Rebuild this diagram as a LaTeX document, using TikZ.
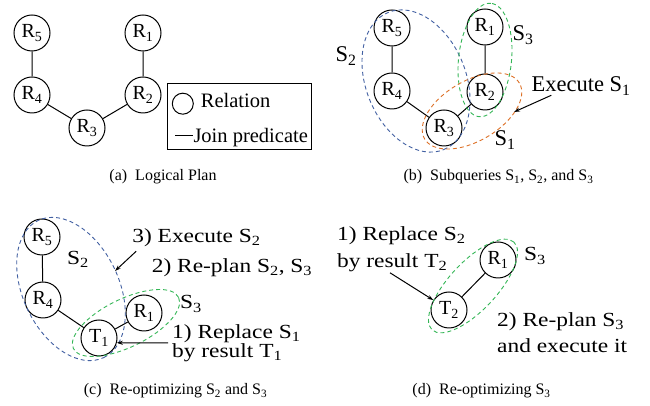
\documentclass[tikz,border=0pt]{standalone}
\usepackage{fontspec}
\setmainfont{Liberation Serif}
\newfontfamily\widefont{Liberation Serif}[FakeStretch=1.17]
\usepackage{tikz}
\usetikzlibrary{arrows.meta,positioning}
\definecolor{sq1}{RGB}{221,112,38}
\definecolor{sq2}{RGB}{66,96,162}
\definecolor{sq3}{RGB}{52,182,86}
\newcommand{\sbs}[2]{#1\textsubscript{#2}}
\tikzset{
	rel/.style={draw,circle,line width=1pt,minimum size=36pt,inner sep=0pt,font=\fontsize{20}{24}\selectfont},
	lbla/.style={inner sep=0pt,font=\fontsize{20.5}{24}\selectfont},
	lblb/.style={inner sep=0pt,font=\fontsize{22.5}{26}\selectfont},
	lblw/.style={inner sep=0pt,align=left,font=\widefont\fontsize{20}{#1}\selectfont},
	lblw/.default=24,
	capt/.style={inner sep=0pt,font=\fontsize{16}{19}\selectfont},
	grp/.style={draw=#1,line width=0.9pt,dash pattern=on 4pt off 3pt},
	pred/.style={line width=1pt},
	ptr/.style={line width=1pt,-{Stealth[length=6pt,width=4pt]}}
}
\begin{document}
\begin{tikzpicture}[x=1pt,y=1pt]
		\useasboundingbox (0,0) rectangle (650,406);
		\node[rel] (a5) at (32,373) {\sbs{R}{5}};
		\node[rel] (a1) at (143,373) {\sbs{R}{1}};
		\node[rel] (a4) at (32,311) {\sbs{R}{4}};
		\node[rel] (a2) at (143,311) {\sbs{R}{2}};
		\node[rel] (a3) at (87,278) {\sbs{R}{3}};
		\draw[pred] (a5) -- (a4) -- (a3) -- (a2) -- (a1);
		\node[draw,line width=1pt,minimum width=144pt,minimum height=66pt] (leg) at (239.5,289.7) {};
		\node[draw,circle,line width=1pt,minimum size=21pt,inner sep=0pt] (legrel) at (182.8,302.3) {};
		\node[lbla,anchor=base west] (legreltxt) at (200.7,298) {Relation};
		\coordinate (legj1) at (175,270);
		\coordinate (legj2) at (193,270);
		\draw[pred] (legj1) -- (legj2);
		\node[lbla,anchor=base west] (legjtxt) at (193.3,263) {Join predicate};
		\node[capt] (capa) at (163,229) {(a)\hspace{0.5em}Logical Plan};

		\node[rel] (b5) at (392,378) {\sbs{R}{5}};
		\node[rel] (b1) at (485,379) {\sbs{R}{1}};
		\node[rel] (b4) at (392,315) {\sbs{R}{4}};
		\node[rel] (b2) at (485,314) {\sbs{R}{2}};
		\node[rel] (b3) at (444,278) {\sbs{R}{3}};
		\draw[pred] (b5) -- (b4) -- (b3) -- (b2) -- (b1);
		\draw[grp=sq2] (416,325) circle[x radius=74,y radius=50,rotate=-68];
		\draw[grp=sq3] (485,346) circle[x radius=57,y radius=26.5,rotate=84];
		\draw[grp=sq1] (472,295) circle[x radius=55,y radius=30,rotate=30.5];
		\node[lblb] (bs2) at (346,350) {\sbs{S}{2}};
		\node[lblb] (bs3) at (523,371) {\sbs{S}{3}};
		\node[lblb] (bs1) at (505,266) {\sbs{S}{1}};
		\node[lblb] (bexec) at (581,320) {Execute \sbs{S}{1}};
		\coordinate (bs1tip) at (514,294);
		\draw[ptr] ([xshift=20pt]bexec.south west) -- (bs1tip);
		\node[capt] (capb) at (498.5,229) {(b)\hspace{0.5em}Subqueries \sbs{S}{1}, \sbs{S}{2}, and \sbs{S}{3}};

		\node[rel] (c5) at (42,169) {\sbs{R}{5}};
		\node[rel] (c4) at (43,106) {\sbs{R}{4}};
		\node[rel] (t1) at (99,68) {\sbs{T}{1}};
		\node[rel] (c1) at (144,93) {\sbs{R}{1}};
		\draw[pred] (c5) -- (c4) -- (t1) -- (c1);
		\draw[grp=sq2] (71,117) circle[x radius=76,y radius=48,rotate=-64.5];
		\draw[grp=sq3] (126,83) circle[x radius=58.5,y radius=24,rotate=26];
		\node[lblw] (cs2) at (78,147) {\sbs{S}{2}};
		\node[lblw] (cs3) at (191,102) {\sbs{S}{3}};
		\node[lblw] (cexec) at (196.5,168) {3) Execute \sbs{S}{2}};
		\node[lblw] (cplan) at (232,138) {2) Re-plan \sbs{S}{2}, \sbs{S}{3}};
		\node[lblw=19,anchor=west] (crepl) at (172,63) {1) Replace \sbs{S}{1}\\by result \sbs{T}{1}};
		\coordinate (cs2tip) at (115,135);
		\draw[ptr] ([shift={(4pt,-4pt)}]cexec.south west) -- (cs2tip);
		\draw[ptr] ([xshift=-4pt]crepl.west) -- (t1.-15);
		\node[capt] (capc) at (175.5,15) {(c)\hspace{0.5em}Re-optimizing \sbs{S}{2} and \sbs{S}{3}};

		\node[rel] (d1) at (498,146) {\sbs{R}{1}};
		\node[rel] (t2) at (449,96) {\sbs{T}{2}};
		\draw[pred] (t2) -- (d1);
		\draw[grp=sq3] (473,120) circle[x radius=60,y radius=24,rotate=47];
		\node[lblw] (ds3) at (535,150) {\sbs{S}{3}};
		\node[lblw=27,anchor=west] (drepl) at (337,157) {1) Replace \sbs{S}{2}\\by result \sbs{T}{2}};
		\node[lblw=26,anchor=west] (dplan) at (497,73) {2) Re-plan \sbs{S}{3}\\and execute it};
		\draw[ptr] ([shift={(53pt,-1pt)}]drepl.south west) -- (t2);
		\node[capt] (capd) at (481.5,15) {(d)\hspace{0.5em}Re-optimizing \sbs{S}{3}};
\end{tikzpicture}
\end{document}
